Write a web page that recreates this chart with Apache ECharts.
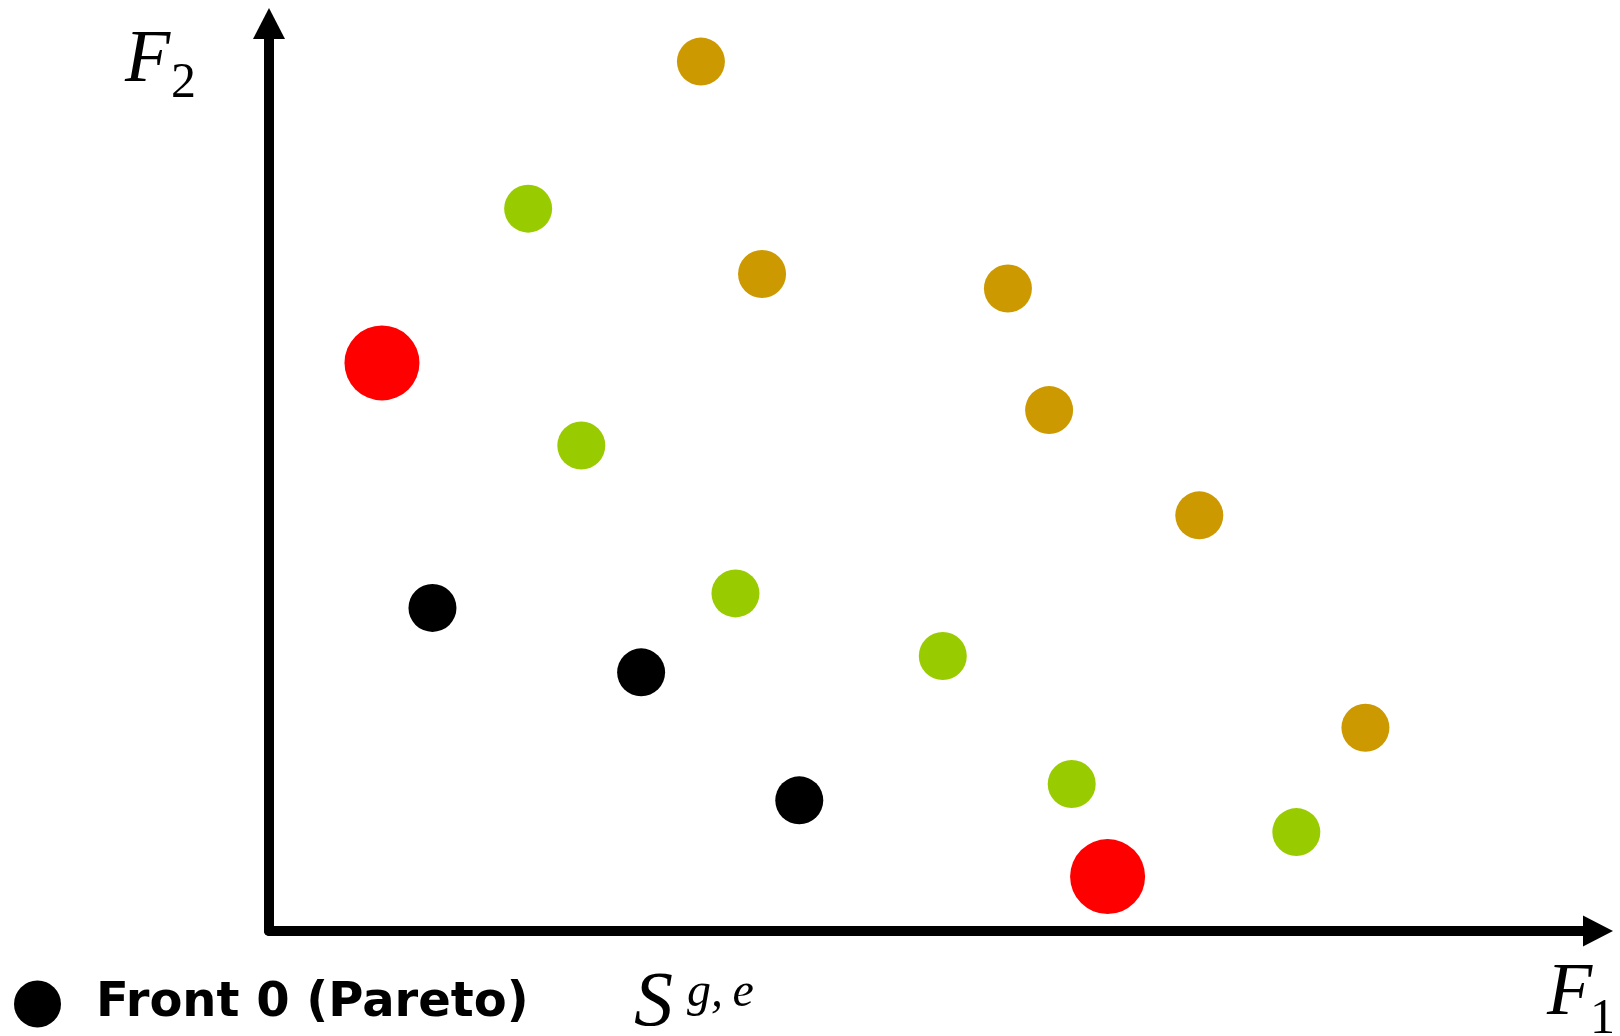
<!DOCTYPE html>
<html>
<head>
<meta charset="utf-8">
<script src="https://cdn.jsdelivr.net/npm/echarts@6/dist/echarts.min.js"></script>
<style>
html,body{margin:0;padding:0;background:#fff;}
#chart{width:1620px;height:1036px;}
</style>
</head>
<body>
<div id="chart"></div>
<script>
// Objective-space coordinates (F1, F2), arbitrary units 0..10
const front0Name = 'Front 0 (Pareto)';
const front0 = [[1.23, 3.56], [2.80, 2.85], [3.99, 1.44]];
const extremes = [[0.85, 6.26], [6.31, 0.60]];
const front1 = [[1.95, 7.96], [2.35, 5.35], [3.51, 3.72], [5.07, 3.03], [6.04, 1.62], [7.73, 1.09]];
const front2 = [[3.25, 9.58], [3.71, 7.24], [5.56, 7.08], [5.87, 5.74], [7.00, 4.58], [8.25, 2.24]];
const axisMin = 0, axisMax = 10;

const chart = echarts.init(document.getElementById('chart'), null, {renderer: 'canvas'});

const hidden = {show: false};
function axis(symbolSize) {
  return {
    type: 'value', min: axisMin, max: axisMax,
    axisLine: {show: true, symbol: ['none', 'triangle'], symbolSize: symbolSize,
               lineStyle: {color: '#000', width: 10}},
    axisTick: hidden, axisLabel: hidden, splitLine: hidden
  };
}
function txt(text, x, y, font) {
  return {type: 'text', x: x, y: y, silent: true,
          style: {text: text, font: font, fill: '#000', align: 'left', verticalAlign: 'middle',
                  textAlign: 'left', textVerticalAlign: 'middle'}};
}
const serifI = '"Liberation Serif", "DejaVu Serif", serif';
function dots(name, color, size, data) {
  return {name: name, type: 'scatter', symbol: 'circle', symbolSize: size, clip: false,
          itemStyle: {color: color, opacity: 1}, emphasis: {disabled: true}, data: data};
}

chart.setOption({
  animation: false,
  backgroundColor: '#fff',
  grid: {left: 269, right: 22, top: 23.5, bottom: 105, containLabel: false},
  xAxis: axis([31, 30]),
  yAxis: axis([32, 31]),
  legend: {
    data: [{name: front0Name, icon: 'circle', itemStyle: {color: '#000', opacity: 1}}],
    left: 9, top: 975, itemWidth: 47, itemHeight: 47,
    textStyle: {fontFamily: '"DejaVu Sans", sans-serif', fontWeight: 'bold', fontSize: 48,
                color: '#000', padding: [0, 0, 0, 30]},
    selectedMode: false
  },
  series: [
    dots('Front 2', '#CC9900', 48, front2),
    dots('Front 1', '#99CC00', 48, front1),
    dots(front0Name, '#000000', 48, front0),
    dots('Extreme', '#FF0000', 75, extremes)
  ],
  graphic: [
    txt('F', 125, 62, 'italic 74px ' + serifI),
    txt('2', 171, 84, '50px ' + serifI),
    txt('F', 1547, 995, 'italic 74px ' + serifI),
    txt('1', 1590, 1020, '50px ' + serifI),
    txt('S', 634, 1004, 'italic 78px ' + serifI),
    txt('g,\u2009e', 687, 993, 'italic 48px ' + serifI)
  ]
});
</script>
</body>
</html>
